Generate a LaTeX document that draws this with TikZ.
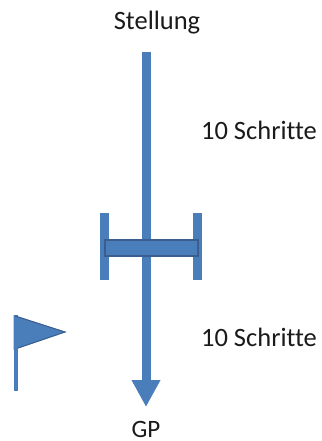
\documentclass[tikz,border=0pt]{standalone}
\usepackage{fontspec}
\setmainfont[Ligatures=NoCommon]{Carlito}
\usetikzlibrary{arrows.meta}
\definecolor{barblue}{HTML}{4A7EBB}
\definecolor{bardark}{HTML}{3A5F8F}
\definecolor{textgrey}{HTML}{1A1A1A}
\tikzset{
  label text/.style={font=\fontsize{26.5}{30}\selectfont,text=textgrey,inner sep=0pt,anchor=center},
  solid bar/.style={fill=barblue,draw=none},
  shaft/.style={draw=barblue,line width=9pt,-{Triangle[length=27pt,width=27pt,fill=barblue]}}
}
\begin{document}
\begin{tikzpicture}[x=1pt,y=-1pt]
\useasboundingbox (0,0) rectangle (321,441);
\node[label text] (stellung) at (157,23) {Stellung};
\node[label text] (upper) at (259,130) {10 Schritte};
\node[label text] (lower) at (259,337) {10 Schritte};
\node[label text,font=\fontsize{25}{28}\selectfont] (gp) at (146,429.5) {GP};
\coordinate (top) at (146,52);
\coordinate (tip) at (146,407);
\draw[shaft] (top) -- (tip);
\fill[solid bar] (100,213) rectangle (109,280);
\fill[solid bar] (193,213) rectangle (202,280);
\draw[fill=barblue,draw=bardark,line width=2pt] (105,240) rectangle (198,256);
\fill[solid bar] (13.5,315) rectangle (18,391);
\fill[solid bar] (13.5,315) -- (66,332) -- (13.5,350) -- cycle;
\draw[bardark,line width=1pt] (15,316) -- (65,332) -- (18,348);
\end{tikzpicture}
\end{document}
